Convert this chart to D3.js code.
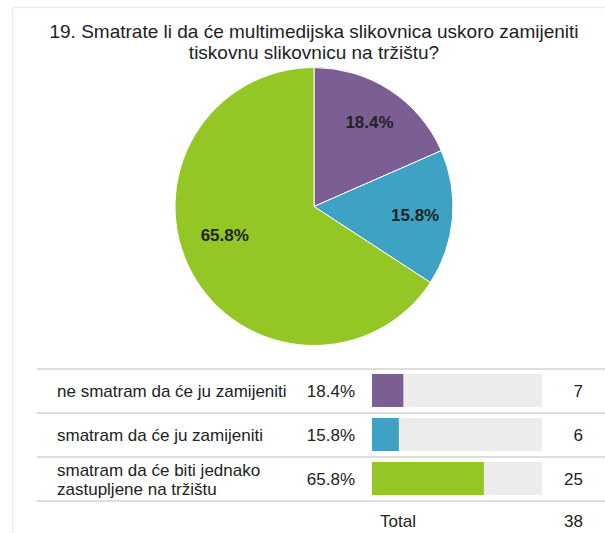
<!DOCTYPE html>
<html>
<head>
<meta charset="utf-8">
<script src="https://cdn.jsdelivr.net/npm/d3@7"></script>
<style>
  body { margin: 0; background: #fff; }
  svg { display: block; font-family: "Liberation Sans", Arial, sans-serif; }
</style>
</head>
<body>
<div id="svg-container"></div>
<script>
// Data
const titleLines = [
  "19. Smatrate li da će multimedijska slikovnica uskoro zamijeniti",
  "tiskovnu slikovnicu na tržištu?"
];
const categories = [
  ["ne smatram da će ju zamijeniti"],
  ["smatram da će ju zamijeniti"],
  ["smatram da će biti jednako", "zastupljene na tržištu"]
];
const counts = [7, 6, 25];
const percents = ["18.4%", "15.8%", "65.8%"];
const colors = ["#7b5e94", "#3da2c4", "#94c626"];
const total = 38;

const width = 605, height = 533;

const svg = d3.select("#svg-container").append("svg")
  .attr("width", width).attr("height", height);

// panel border (top + left)
svg.append("path")
  .attr("d", `M12.5,${height} V7.5 H${width}`)
  .attr("fill", "none").attr("stroke", "#ececec").attr("stroke-width", 1.5);

// Title
svg.append("g").selectAll("text").data(titleLines).join("text")
  .attr("x", 314).attr("y", (d, i) => 38 + i * 21)
  .attr("text-anchor", "middle")
  .attr("font-size", 19).attr("fill", "#222")
  .text(d => d);

////////////////////////////  Pie  ///////////////////////////////
const cx = 314, cy = 206.5, r = 139;
const pie = d3.pie().sort(null).value(d => d);
const arc = d3.arc().innerRadius(0).outerRadius(r);
const labelArc = d3.arc().innerRadius(r * 0.73).outerRadius(r * 0.73);
const arcs = pie(counts);

const gPie = svg.append("g").attr("transform", `translate(${cx},${cy})`);
gPie.selectAll("path").data(arcs).join("path")
  .attr("d", arc)
  .attr("fill", (d, i) => colors[i])
  .attr("stroke", "#fff").attr("stroke-width", 1);

gPie.selectAll("text").data(arcs).join("text")
  .attr("transform", (d, i) => {
    const c = labelArc.centroid(d);
    // the big slice label sits a bit higher in the original
    if (i === 2) c[1] -= 20;
    return `translate(${c[0]},${c[1] + 6})`;
  })
  .attr("text-anchor", "middle")
  .attr("font-size", 17).attr("font-weight", "bold").attr("fill", "#222")
  .text((d, i) => percents[i]);

////////////////////////////  Table  //////////////////////////////
const rowScale = d3.scaleBand()
  .domain(d3.range(categories.length))
  .range([369, 501]);
const barScale = d3.scaleLinear().domain([0, 1]).range([372, 542]);
const barH = 33;

// row separators
svg.append("g").selectAll("line")
  .data(d3.range(categories.length + 1))
  .join("line")
  .attr("x1", 37).attr("x2", width)
  .attr("y1", i => rowScale(0) + i * rowScale.step())
  .attr("y2", i => rowScale(0) + i * rowScale.step())
  .attr("stroke", "#dedede").attr("stroke-width", 2);

const rows = svg.append("g").selectAll("g").data(categories).join("g")
  .attr("transform", (d, i) => `translate(0,${rowScale(i) + rowScale.bandwidth() / 2})`);

rows.append("text")
  .attr("x", 57).attr("font-size", 17).attr("fill", "#222")
  .selectAll("tspan").data(d => d).join("tspan")
  .attr("x", 57)
  .attr("y", (t, j, nodes) => 6 + (j - (nodes.length - 1) / 2) * 19)
  .text(t => t);

rows.append("text")
  .attr("x", 355).attr("y", 6).attr("text-anchor", "end")
  .attr("font-size", 17).attr("fill", "#222")
  .text((d, i) => percents[i]);

rows.append("rect")
  .attr("x", barScale(0)).attr("y", -barH / 2 - 0.5)
  .attr("width", barScale(1) - barScale(0)).attr("height", barH)
  .attr("fill", "#ececec");

rows.append("rect")
  .attr("x", barScale(0)).attr("y", -barH / 2 - 0.5)
  .attr("width", (d, i) => barScale(counts[i] / total) - barScale(0))
  .attr("height", barH)
  .attr("fill", (d, i) => colors[i]);

rows.append("text")
  .attr("x", 583).attr("y", 6).attr("text-anchor", "end")
  .attr("font-size", 17).attr("fill", "#222")
  .text((d, i) => counts[i]);

// Total row
svg.append("text").attr("x", 380).attr("y", 527)
  .attr("font-size", 17).attr("fill", "#222").text("Total");
svg.append("text").attr("x", 583).attr("y", 527).attr("text-anchor", "end")
  .attr("font-size", 17).attr("fill", "#222").text(total);
</script>
</body>
</html>
